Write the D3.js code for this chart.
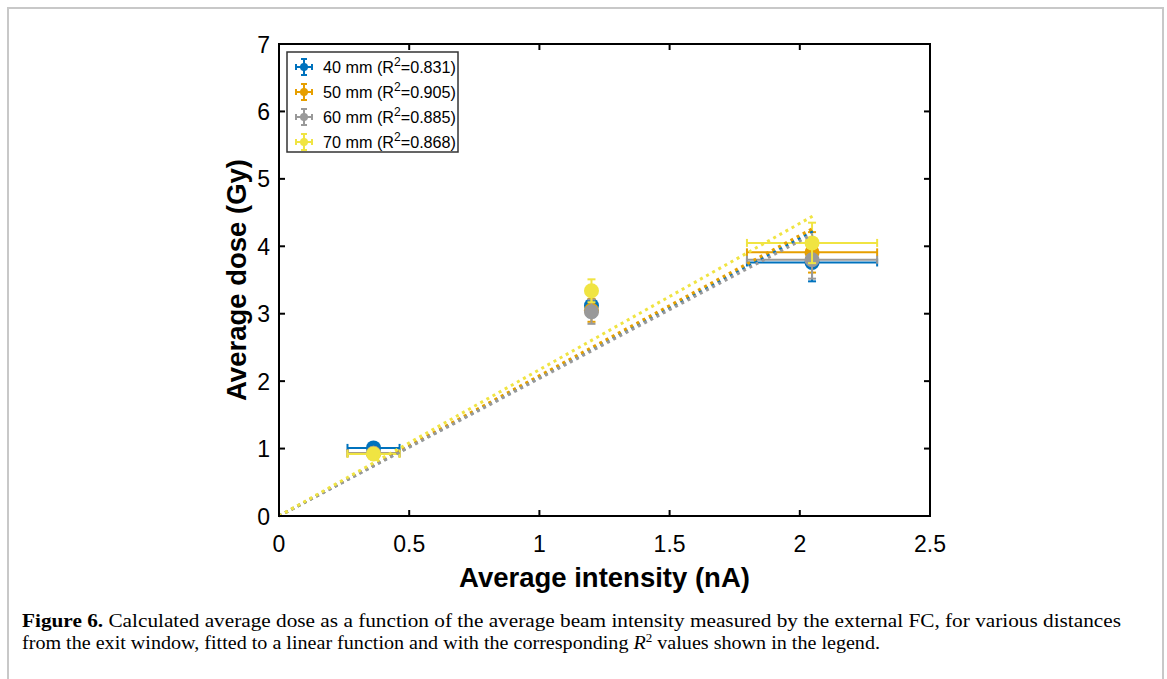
<!DOCTYPE html>
<html><head><meta charset="utf-8">
<script src="https://cdn.jsdelivr.net/npm/d3@7"></script>
<style>body{margin:0;background:#fff;}svg{display:block;}</style>
</head><body>
<svg id="c" width="1167" height="679"></svg>
<script>
// ---- data ----
const seriesNames = ["40 mm", "50 mm", "60 mm", "70 mm"];
const r2Values = ["0.831", "0.905", "0.885", "0.868"];
const colors = ["#0072BD", "#E69F00", "#999999", "#F0E442"];
const intensity = [0.363, 1.2, 2.047];
const intensityErr = [0.1, 0.015, 0.25];
const dose40 = [1.01, 3.12, 3.76];
const dose50 = [0.93, 3.05, 3.91];
const dose60 = [0.93, 3.03, 3.80];
const dose70 = [0.92, 3.34, 4.05];
const doseErr40 = [0.03, 0.17, 0.28];
const doseErr50 = [0.03, 0.17, 0.30];
const doseErr60 = [0.03, 0.18, 0.28];
const doseErr70 = [0.03, 0.17, 0.30];
const fitSlopes = [2.06, 2.08, 2.04, 2.17];
const fitRange = [0, 2.05];
const xTicks = [0, 0.5, 1, 1.5, 2, 2.5];
const yTicks = [0, 1, 2, 3, 4, 5, 6, 7];

const doses = [dose40, dose50, dose60, dose70];
const doseErrs = [doseErr40, doseErr50, doseErr60, doseErr70];

const svg = d3.select("#c");
// outer frame
svg.append("rect").attr("x", 8).attr("y", 8).attr("width", 1155).attr("height", 700)
  .attr("fill", "none").attr("stroke", "#c8c8c8").attr("stroke-width", 2);

const L = 279, R = 930, T = 44, B = 516;
const x = d3.scaleLinear().domain([0, 2.5]).range([L, R]);
const y = d3.scaleLinear().domain([0, 7]).range([B, T]);
const font = "'Liberation Sans', Arial, Helvetica, sans-serif";

const g = svg.append("g");

// points
const ptG = g.append("g");
seriesNames.forEach((name, s) => {
  const gs = ptG.append("g");
  intensity.forEach((xi, i) => {
    const yi = doses[s][i], ex = intensityErr[i], ey = doseErrs[s][i];
    const c = colors[s];
    const cap = 4;
    gs.append("line").attr("x1", x(xi - ex)).attr("x2", x(xi + ex)).attr("y1", y(yi)).attr("y2", y(yi))
      .attr("stroke", c).attr("stroke-width", 2);
    [xi - ex, xi + ex].forEach(v => gs.append("line").attr("x1", x(v)).attr("x2", x(v))
      .attr("y1", y(yi) - cap).attr("y2", y(yi) + cap).attr("stroke", c).attr("stroke-width", 2));
    gs.append("line").attr("x1", x(xi)).attr("x2", x(xi)).attr("y1", y(yi - ey)).attr("y2", y(yi + ey))
      .attr("stroke", c).attr("stroke-width", 2);
    [yi - ey, yi + ey].forEach(v => gs.append("line").attr("x1", x(xi) - cap).attr("x2", x(xi) + cap)
      .attr("y1", y(v)).attr("y2", y(v)).attr("stroke", c).attr("stroke-width", 2));
    gs.append("circle").attr("cx", x(xi)).attr("cy", y(yi)).attr("r", 7.5).attr("fill", c);
  });
});
// fit lines
const fitG = g.append("g");
seriesNames.forEach((name, s) => {
  fitG.append("line")
    .attr("x1", x(fitRange[0])).attr("y1", y(fitRange[0] * fitSlopes[s]))
    .attr("x2", x(fitRange[1])).attr("y2", y(fitRange[1] * fitSlopes[s]))
    .attr("stroke", colors[s]).attr("stroke-width", 3).attr("stroke-dasharray", "3,4");
});

// axes box
const ax = svg.append("g");
ax.append("rect").attr("x", L).attr("y", T).attr("width", R - L).attr("height", B - T)
  .attr("fill", "none").attr("stroke", "#000").attr("stroke-width", 2);
const tl = 6;
xTicks.forEach(t => {
  ax.append("line").attr("x1", x(t)).attr("x2", x(t)).attr("y1", B).attr("y2", B - tl).attr("stroke", "#000").attr("stroke-width", 2);
  ax.append("line").attr("x1", x(t)).attr("x2", x(t)).attr("y1", T).attr("y2", T + tl).attr("stroke", "#000").attr("stroke-width", 2);
  ax.append("text").attr("x", x(t)).attr("y", 552).attr("text-anchor", "middle")
    .attr("font-family", font).attr("font-size", 23).text(t);
});
yTicks.forEach(t => {
  ax.append("line").attr("x1", L).attr("x2", L + tl).attr("y1", y(t)).attr("y2", y(t)).attr("stroke", "#000").attr("stroke-width", 2);
  ax.append("line").attr("x1", R).attr("x2", R - tl).attr("y1", y(t)).attr("y2", y(t)).attr("stroke", "#000").attr("stroke-width", 2);
  ax.append("text").attr("x", 270).attr("y", y(t) + 8.5).attr("text-anchor", "end")
    .attr("font-family", font).attr("font-size", 23).text(t);
});
ax.append("text").attr("x", (L + R) / 2).attr("y", 587).attr("text-anchor", "middle")
  .attr("font-family", font).attr("font-size", 27.5).attr("font-weight", "bold").text("Average intensity (nA)");
ax.append("text").attr("transform", `translate(246,${(T + B) / 2}) rotate(-90)`).attr("text-anchor", "middle")
  .attr("font-family", font).attr("font-size", 27.5).attr("font-weight", "bold").text("Average dose (Gy)");

// legend
const lg = svg.append("g");
lg.append("rect").attr("x", 287).attr("y", 52).attr("width", 171).attr("height", 100)
  .attr("fill", "#fff").attr("stroke", "#333").attr("stroke-width", 1.5);
seriesNames.forEach((name, s) => {
  const cy = 67 + s * 25, cx = 304, c = colors[s], h = 8, cap = 3;
  lg.append("line").attr("x1", cx - h).attr("x2", cx + h).attr("y1", cy).attr("y2", cy).attr("stroke", c).attr("stroke-width", 2);
  lg.append("line").attr("x1", cx).attr("x2", cx).attr("y1", cy - h).attr("y2", cy + h).attr("stroke", c).attr("stroke-width", 2);
  [-h, h].forEach(d => {
    lg.append("line").attr("x1", cx + d).attr("x2", cx + d).attr("y1", cy - cap).attr("y2", cy + cap).attr("stroke", c).attr("stroke-width", 2);
    lg.append("line").attr("x1", cx - cap).attr("x2", cx + cap).attr("y1", cy + d).attr("y2", cy + d).attr("stroke", c).attr("stroke-width", 2);
  });
  lg.append("circle").attr("cx", cx).attr("cy", cy).attr("r", 4).attr("fill", c);
  const t = lg.append("text").attr("x", 323).attr("y", cy + 6).attr("font-family", font).attr("font-size", 16)
    .attr("textLength", 133).attr("lengthAdjust", "spacingAndGlyphs");
  t.append("tspan").text(name + " (R");
  t.append("tspan").attr("dy", -7).attr("font-size", 12).text("2");
  t.append("tspan").attr("dy", 7).text("=" + r2Values[s] + ")");
});

// caption
const serif = "'Liberation Serif', 'Times New Roman', serif";
const c1 = svg.append("text").attr("x", 22).attr("y", 627).attr("font-family", serif).attr("font-size", 18.5)
  .attr("textLength", 1099).attr("lengthAdjust", "spacingAndGlyphs");
c1.append("tspan").attr("font-weight", "bold").text("Figure 6.");
c1.append("tspan").text(" Calculated average dose as a function of the average beam intensity measured by the external FC, for various distances");
const c2 = svg.append("text").attr("x", 22).attr("y", 649).attr("font-family", serif).attr("font-size", 18.5)
  .attr("textLength", 858).attr("lengthAdjust", "spacingAndGlyphs");
c2.append("tspan").text("from the exit window, fitted to a linear function and with the corresponding ");
c2.append("tspan").attr("font-style", "italic").text("R");
c2.append("tspan").attr("dy", -7).attr("font-size", 12).text("2");
c2.append("tspan").attr("dy", 7).text(" values shown in the legend.");
</script>
</body></html>
